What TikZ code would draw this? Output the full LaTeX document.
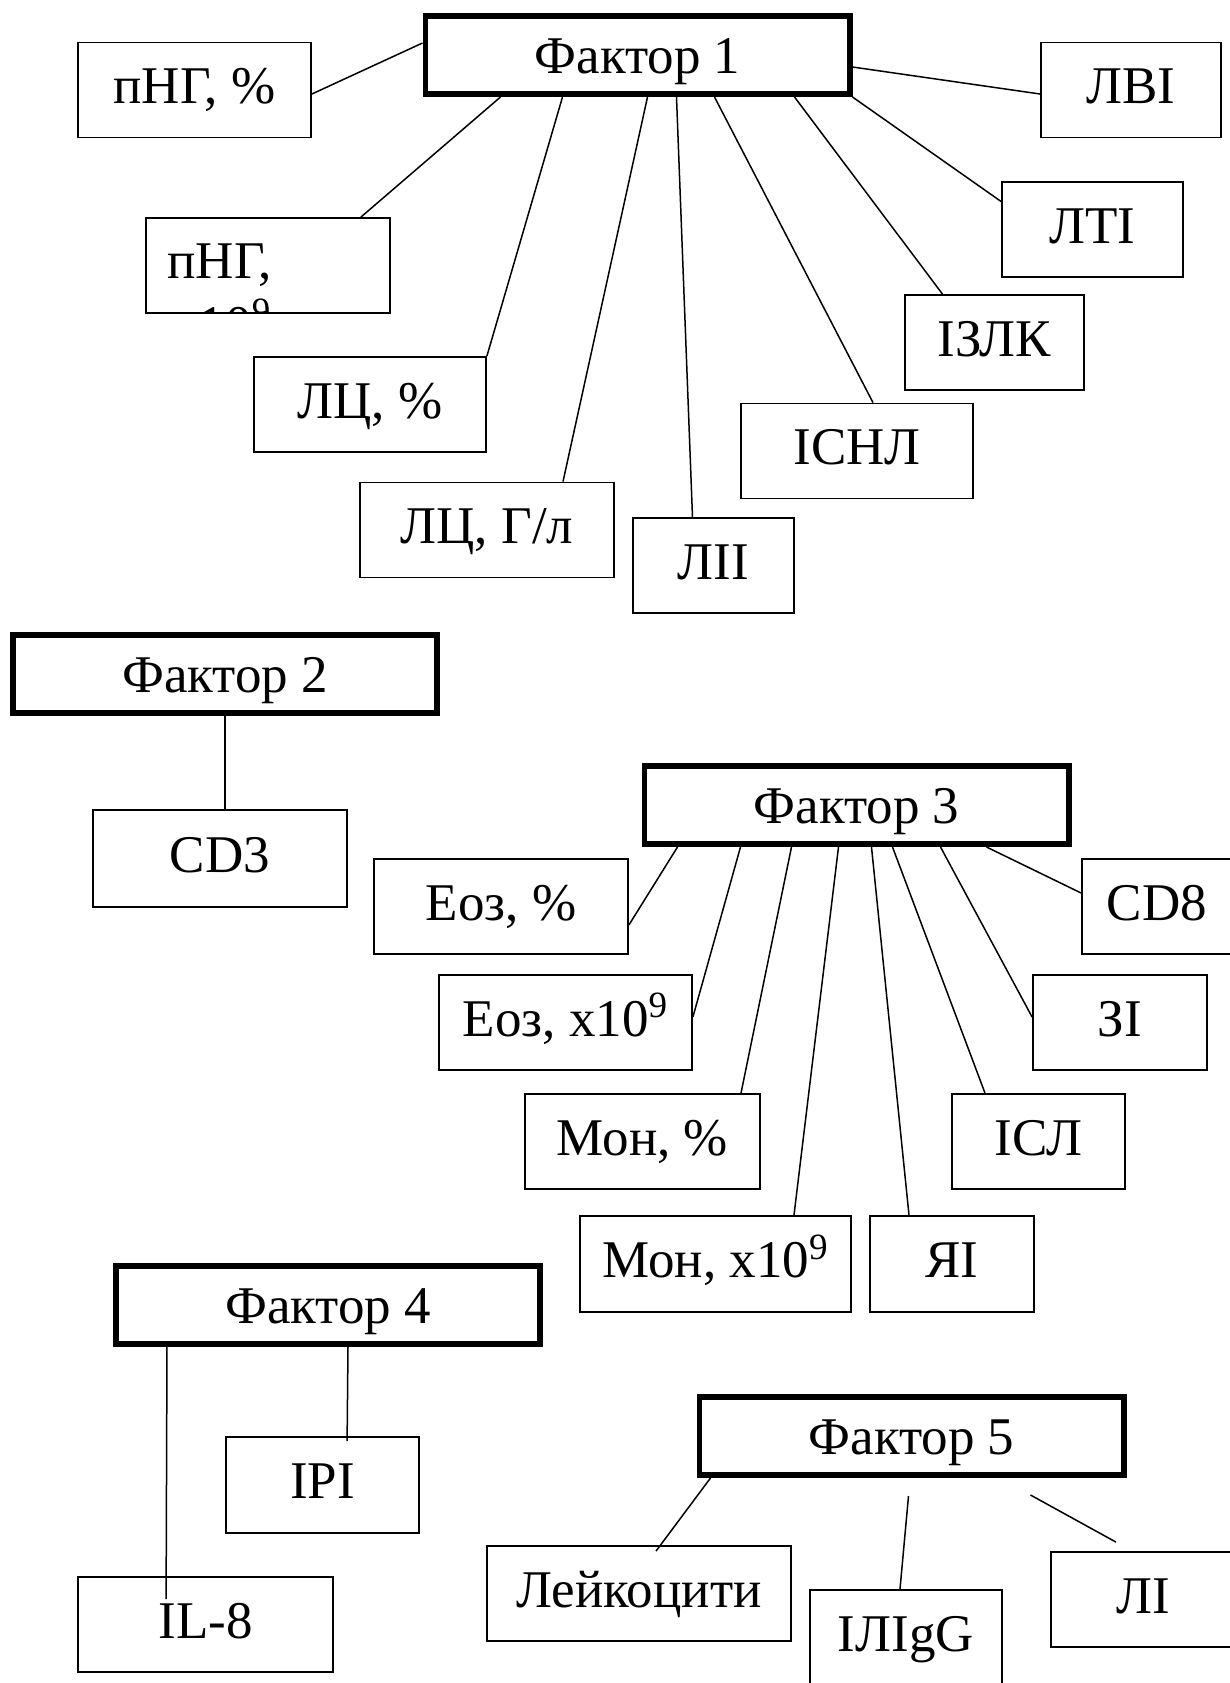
\documentclass[tikz,border=0pt]{standalone}
\usepackage{fontspec}
\setmainfont{Liberation Serif}
\usepackage{tikz}
\usetikzlibrary{calc}

\begin{document}
\begin{tikzpicture}[x=0.5pt, y=-0.5pt,
    every node/.style={font=\fontsize{26.5}{32}\selectfont},
    factor/.style={draw, line width=2.8pt, minimum width=212.2pt, minimum height=39.2pt,
      inner sep=0pt, text height=18pt, text depth=0pt},
    leaf/.style={draw, line width=0.9pt, minimum height=47.5pt, inner sep=0pt,
      text height=17.5pt, text depth=4pt},
    link/.style={line width=0.75pt}]
        \useasboundingbox (0,0) rectangle (1230,1683);

        \node[factor] (f1) at (637.5,55) {Фактор 1};
        \node[factor] (f2) at (225,674) {Фактор 2};
        \node[factor] (f3) at (856.5,805) {Фактор 3};
        \node[factor] (f4) at (328,1305) {Фактор 4};
        \node[factor] (f5) at (911.5,1436) {Фактор 5};

        \node[leaf, minimum width=116.5pt] (pngp) at (194.5,90) {пНГ, \%};
        \node[leaf, minimum width=90pt] (lvi) at (1131,90) {ЛВІ};
        \node[leaf, minimum width=122pt] (pngx) at (268,265.5) {};
        \begin{scope}
          \clip (pngx.south west) rectangle (pngx.north east);
          \node[anchor=base west, inner sep=0pt] (pngxa) at (167,278) {пНГ,};
          \node[anchor=base west, inner sep=0pt] (pngxb) at (172,342) {x10\textsuperscript{9}};
        \end{scope}
        \node[leaf, minimum width=90.5pt] (lti) at (1092.5,229.5) {ЛТІ};
        \node[leaf, minimum width=89.5pt] (izlk) at (994.5,342.5) {ІЗЛК};
        \node[leaf, minimum width=116pt] (lcp) at (370,404.5) {ЛЦ, \%};
        \node[leaf, minimum width=116pt] (isnl) at (857,451) {ІСНЛ};
        \node[leaf, minimum width=127pt] (lcg) at (487,530) {ЛЦ, Г/л};
        \node[leaf, minimum width=80.5pt] (lii) at (713.5,565.5) {ЛІІ};

        \node[leaf, minimum width=127pt, minimum height=48.5pt] (cd3) at (220,858.5) {CD3};

        \node[leaf, minimum width=127pt] (eozp) at (501,906.5) {Еоз, \%};
        \node[leaf, minimum width=75pt] (cd8) at (1157,906.5) {CD8};
        \node[leaf, minimum width=126.5pt] (eozx) at (565.5,1022.5) {Еоз, x10\textsuperscript{9}};
        \node[leaf, minimum width=87pt] (zi) at (1120,1022.5) {ЗІ};
        \node[leaf, minimum width=117.5pt] (monp) at (642.5,1141.5) {Мон, \%};
        \node[leaf, minimum width=86.5pt] (isl) at (1038.5,1141.5) {ІСЛ};
        \node[leaf, minimum width=135.5pt, minimum height=48pt] (monx) at (715.5,1264) {Мон, x10\textsuperscript{9}};
        \node[leaf, minimum width=82pt, minimum height=48pt] (yai) at (952,1264) {ЯІ};

        \node[leaf, minimum width=96.5pt, minimum height=48pt] (ipi) at (322.5,1485) {ІРІ};
        \node[leaf, minimum width=127.5pt] (il8) at (205.5,1624.5) {IL-8};

        \node[leaf, minimum width=152pt] (leyk) at (639,1593.5) {Лейкоцити};
        \node[leaf, minimum width=96pt] (ilig) at (906,1637.5) {ІЛІgG};
        \node[leaf, minimum width=92pt] (li) at (1143,1599.5) {ЛІ};

        \draw[link] ($(pngp.east)+(0,4)$) -- ($(f1.west)+(0,-12)$);
        \draw[link] ($(pngx.north east)+(-30,0)$) -- ($(f1.south west)+(78,0)$);
        \draw[link] (lcp.north east) -- ($(f1.south west)+(140,0)$);
        \draw[link] ($(lcg.north)+(76,0)$) -- ($(f1.south west)+(225,0)$);
        \draw[link] ($(lii.north)+(-21,0)$) -- ($(f1.south west)+(254,0)$);
        \draw[link] ($(isnl.north)+(16,0)$) -- ($(f1.south west)+(292,0)$);
        \draw[link] ($(izlk.north)+(-52,0)$) -- ($(f1.south west)+(372,0)$);
        \draw[link] ($(lti.west)+(0,-28)$) -- (f1.south east);
        \draw[link] ($(lvi.west)+(0,4)$) -- ($(f1.east)+(0,12)$);

        \draw[link] (f2.south) -- (f2.south |- cd3.north);

        \draw[link] ($(eozp.east)+(0,18.5)$) -- ($(f3.south west)+(36,0)$);
        \draw[link] ($(eozx.east)+(0,-5.5)$) -- ($(f3.south west)+(99,0)$);
        \draw[link] ($(monp.north)+(98.5,0)$) -- ($(f3.south west)+(150,0)$);
        \draw[link] ($(monx.north)+(78.5,0)$) -- ($(f3.south west)+(197,0)$);
        \draw[link] ($(yai.north)+(-43,0)$) -- ($(f3.south west)+(230,0)$);
        \draw[link] ($(isl.north)+(-53.5,0)$) -- ($(f3.south west)+(251,0)$);
        \draw[link] ($(zi.west)+(0,-5.5)$) -- ($(f3.south west)+(299,0)$);
        \draw[link] ($(cd8.west)+(0,-13.5)$) -- ($(f3.south west)+(345,0)$);

        \draw[link] ($(f4.south west)+(54,-5)$) -- ($(il8.north west)+(89,23)$);
        \draw[link] ($(f4.south west)+(235,0)$) -- ($(ipi.north west)+(122,5)$);

        \draw[link] ($(leyk.north)+(17,6)$) -- ($(f5.south west)+(14,0)$);
        \draw[link] ($(ilig.north)+(-6,0)$) -- ($(f5.south west)+(212,18)$);
        \draw[link] ($(li.north)+(-27,-9)$) -- ($(f5.south west)+(334,17)$);
      \end{tikzpicture}
\end{document}
